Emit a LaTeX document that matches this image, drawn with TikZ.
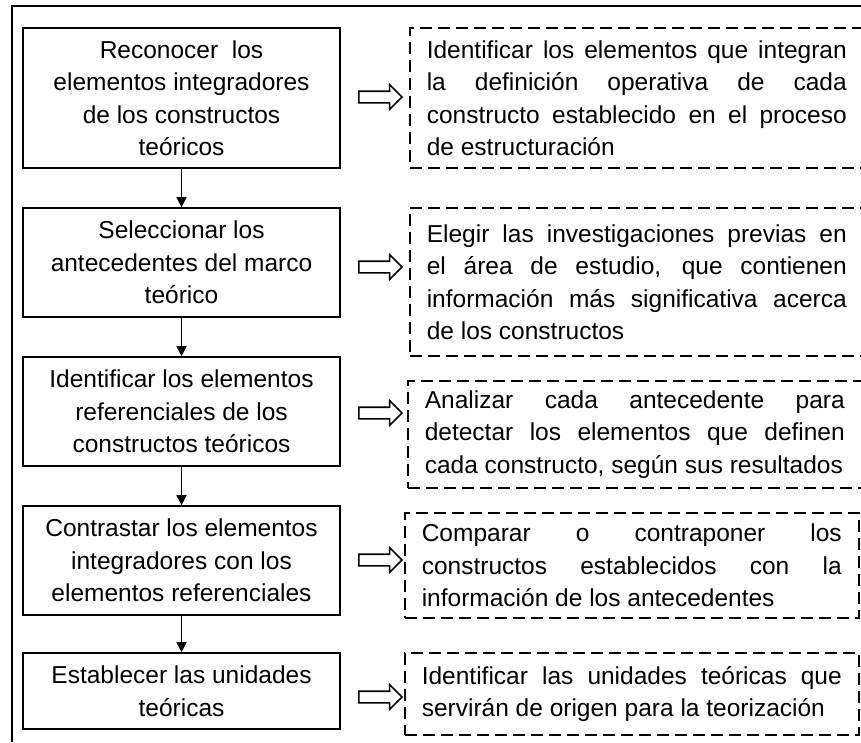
\documentclass[tikz,border=0pt]{standalone}
\usepackage{fontspec}
\setmainfont{Liberation Sans}
\usetikzlibrary{shapes.arrows,arrows.meta}
\setlength{\parindent}{0pt}

\begin{document}
\begin{tikzpicture}[x=1pt,y=-1pt,
  paso/.style={draw, line width=1.6pt, minimum width=317pt, inner sep=0pt,
    align=center, font=\fontsize{24.5}{32.5}\selectfont},
  tarea/.style={draw, dash pattern=on 12pt off 6pt, line width=1.6pt,
    anchor=west, text width=420pt, inner xsep=17pt, inner ysep=0pt,
    align=justify, font=\fontsize{24.5}{32.5}\selectfont},
  hueco/.style={single arrow, draw, line width=1.6pt, minimum height=43pt,
    inner xsep=0pt, inner ysep=5pt, single arrow head extend=6.5pt,
    single arrow tip angle=90},
  flecha/.style={line width=1.6pt, -{Triangle[width=10pt,length=10pt]}}]

  \useasboundingbox (0,0) rectangle (861,742);

  % marco exterior
  \draw[line width=2pt] (12,742) -- (12,6) -- (861,6);

  % pasos
  \node[paso, minimum height=140pt] (p1) at (181.5,98)
    {Reconocer\ \ los\\elementos integradores\\de los constructos\\teóricos};
  \node[paso, minimum height=109pt] (p2) at (181.5,262.5)
    {Seleccionar los\\antecedentes del marco\\teórico};
  \node[paso, minimum height=109pt] (p3) at (181.5,411.5)
    {Identificar los elementos\\referenciales de los\\constructos teóricos};
  \node[paso, minimum height=109pt] (p4) at (181.5,560.5)
    {Contrastar los elementos\\integradores con los\\elementos referenciales};
  \node[paso, minimum height=76pt] (p5) at (181.5,691)
    {Establecer las unidades\\teóricas};

  \draw[flecha] (p1) -- (p2);
  \draw[flecha] (p2) -- (p3);
  \draw[flecha] (p3) -- (p4);
  \draw[flecha] (p4) -- (p5);

  % tareas
  \node[tarea, minimum height=140pt] (t1) at (409,98)
    {Identificar los elementos que integran\linebreak la definición operativa de cada\linebreak constructo establecido en el proceso\linebreak de estructuración};
  \node[tarea, minimum height=148pt] (t2) at (409,282)
    {Elegir las investigaciones previas en\linebreak el área de estudio, que contienen\linebreak información más significativa acerca\linebreak de los constructos};
  \node[tarea, minimum height=107pt] (t3) at (407,434.5)
    {Analizar cada antecedente para\linebreak detectar los elementos que definen\linebreak cada constructo, según sus resultados};
  \node[tarea, minimum height=105pt] (t4) at (404,565.5)
    {Comparar o contraponer los\linebreak constructos establecidos con la\linebreak información de los antecedentes};
  \node[tarea, minimum height=82pt] (t5) at (404,694)
    {Identificar las unidades teóricas que\linebreak servirán de origen para la teorización};

  % flechas huecas
  \node[hueco] (h1) at (377.5,97) {};
  \node[hueco] (h2) at (377.5,267) {};
  \node[hueco] (h3) at (377.5,413) {};
  \node[hueco] (h4) at (377.5,560) {};
  \node[hueco] (h5) at (377.5,697) {};

\end{tikzpicture}
\end{document}
